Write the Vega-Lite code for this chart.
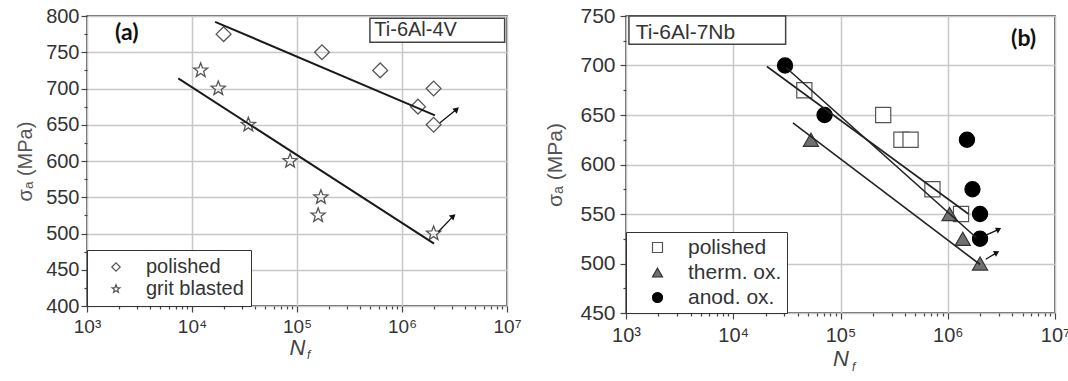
{
  "$schema": "https://vega.github.io/schema/vega-lite/v6.json",
  "background": "white",
  "padding": {"left": 14, "top": 4, "right": 0, "bottom": 0},
  "spacing": 22,
  "config": {
    "font": "Liberation Sans",
    "view": {"stroke": "#333", "strokeWidth": 1.5},
    "axis": {"domain": false, "tickColor": "#444", "tickWidth": 1.2, "tickSize": 5, "labelColor": "#333", "labelFont": "Liberation Sans", "titleFont": "Liberation Sans", "titleFontWeight": "normal", "gridColor": "#c8c8c8", "gridWidth": 1.5, "labelFlush": false, "labelOverlap": false}
  },
  "resolve": {"scale": {"shape": "independent", "fill": "independent", "stroke": "independent"}},
  "hconcat": [
    {
      "width": 420,
      "height": 290,
      "encoding": {
        "x": {"field": "N", "type": "quantitative",
          "scale": {"type": "log", "domain": [1000, 10000000], "nice": false},
          "axis": {
            "values": [1000,2000,3000,4000,5000,6000,7000,8000,9000,10000,20000,30000,40000,50000,60000,70000,80000,90000,100000,200000,300000,400000,500000,600000,700000,800000,900000,1000000,2000000,3000000,4000000,5000000,6000000,7000000,8000000,9000000,10000000],
            "labelExpr": "datum.value == 1000 ? '10³' : datum.value == 10000 ? '10⁴' : datum.value == 100000 ? '10⁵' : datum.value == 1000000 ? '10⁶' : datum.value == 10000000 ? '10⁷' : ''",
            "gridColor": {"condition": {"test": "indexof([1000,10000,100000,1000000,10000000], datum.value) >= 0", "value": "#c8c8c8"}, "value": "transparent"},
            "tickSize": {"condition": {"test": "indexof([1000,10000,100000,1000000,10000000], datum.value) >= 0", "value": 6}, "value": 3},
            "labelFontSize": 19,
            "labelPadding": 5,
            "title": "N",
            "titleFontStyle": "italic",
            "titleFontSize": 22,
            "titleColor": "#444",
            "titlePadding": 1
          }
        },
        "y": {"field": "S", "type": "quantitative",
          "scale": {"domain": [400, 800], "nice": false, "zero": false},
          "axis": {
            "values": [400,425,450,475,500,525,550,575,600,625,650,675,700,725,750,775,800],
            "labelExpr": "datum.value % 50 == 0 ? datum.label : ''",
            "gridColor": {"condition": {"test": "datum.value % 50 == 0", "value": "#c8c8c8"}, "value": "transparent"},
            "tickSize": {"condition": {"test": "datum.value % 50 == 0", "value": 6}, "value": 3},
            "labelFontSize": 20,
            "labelPadding": 2,
            "title": "σₐ (MPa)",
            "titleFontSize": 20,
            "titleColor": "#555",
            "titlePadding": 10
          }
        }
      },
      "layer": [
        {
          "data": {"values": [
            {"N": 20000, "S": 775, "series": "polished"},
            {"N": 173000, "S": 750, "series": "polished"},
            {"N": 620000, "S": 725, "series": "polished"},
            {"N": 2000000, "S": 700, "series": "polished"},
            {"N": 1420000, "S": 675, "series": "polished"},
            {"N": 2000000, "S": 650, "series": "polished"},
            {"N": 12100, "S": 725, "series": "grit blasted"},
            {"N": 17800, "S": 700, "series": "grit blasted"},
            {"N": 34400, "S": 650, "series": "grit blasted"},
            {"N": 86000, "S": 600, "series": "grit blasted"},
            {"N": 169000, "S": 550, "series": "grit blasted"},
            {"N": 159000, "S": 525, "series": "grit blasted"},
            {"N": 2000000, "S": 500, "series": "grit blasted"}
          ]},
          "mark": {"type": "point", "filled": false, "opacity": 1, "strokeWidth": 1.3, "size": 220, "color": "#555"},
          "encoding": {
            "shape": {"field": "series", "type": "nominal",
              "scale": {"domain": ["polished", "grit blasted"], "range": ["diamond", "M0,-1 L0.247,-0.34 L0.951,-0.309 L0.399,0.13 L0.588,0.809 L0,0.42 L-0.588,0.809 L-0.399,0.13 L-0.951,-0.309 L-0.247,-0.34 Z"]},
              "legend": {"title": null, "orient": "bottom-left", "offset": 0, "strokeColor": "#333", "fillColor": "white", "padding": 7, "labelFontSize": 20, "labelColor": "#333", "symbolSize": 70, "symbolStrokeColor": "#555", "symbolStrokeWidth": 1.2, "symbolOffset": 12, "labelOffset": 20, "rowPadding": 2, "cornerRadius": 0}
            }
          }
        },
        {
          "data": {"values": [
            {"N": 16600, "S": 792, "fit": "polished"},
            {"N": 2060000, "S": 663, "fit": "polished"},
            {"N": 7400, "S": 714, "fit": "grit blasted"},
            {"N": 2020000, "S": 486, "fit": "grit blasted"}
          ]},
          "mark": {"type": "line", "color": "#1a1a1a", "strokeWidth": 2},
          "encoding": {
            "detail": {"field": "fit", "type": "nominal"}
          }
        },
        {
          "data": {"values": [
            {"N": 2300000, "S": 652.8, "N2": 3320000, "S2": 671.3},
            {"N": 2220000, "S": 502.5, "N2": 3080000, "S2": 524}
          ]},
          "mark": {"type": "rule", "color": "#111", "strokeWidth": 1.3},
          "encoding": {
            "x2": {"field": "N2"},
            "y2": {"field": "S2"}
          }
        },
        {
          "data": {"values": [
            {"N": 3320000, "S": 671.3},
            {"N": 3080000, "S": 524}
          ]},
          "mark": {"type": "point", "shape": "triangle-right", "filled": true, "color": "#111", "opacity": 1, "size": 45, "angle": 318},
          "encoding": {}
        },
        {
          "data": {"values": [{"N": 495000, "N2": 9500000, "S": 763.7, "S2": 796.8}]},
          "mark": {"type": "rect", "fill": "white", "stroke": "#444", "strokeWidth": 1.5},
          "encoding": {
            "x2": {"field": "N2"},
            "y2": {"field": "S2"}
          }
        },
        {
          "data": {"values": [{"N": 545000, "S": 780.7, "label": "Ti-6Al-4V"}]},
          "mark": {"type": "text", "align": "left", "baseline": "middle", "fontSize": 20, "color": "#333"},
          "encoding": {
            "text": {"field": "label", "type": "nominal"}
          }
        },
        {
          "data": {"values": [{"N": 2390, "S": 776.6, "label": "(a)"}]},
          "mark": {"type": "text", "align": "center", "baseline": "middle", "fontSize": 23, "fontWeight": "bold", "font": "Lato", "color": "#111"},
          "encoding": {
            "text": {"field": "label", "type": "nominal"}
          }
        },
        {
          "data": {"values": [{"N": 129000, "S": 332.5, "label": "f"}]},
          "mark": {"type": "text", "align": "center", "baseline": "middle", "fontSize": 12, "fontStyle": "italic", "color": "#444"},
          "encoding": {
            "text": {"field": "label", "type": "nominal"}
          }
        }
      ]
    },
    {
      "width": 429,
      "height": 297,
      "encoding": {
        "x": {"field": "N", "type": "quantitative",
          "scale": {"type": "log", "domain": [1000, 10000000], "nice": false},
          "axis": {
            "values": [1000,2000,3000,4000,5000,6000,7000,8000,9000,10000,20000,30000,40000,50000,60000,70000,80000,90000,100000,200000,300000,400000,500000,600000,700000,800000,900000,1000000,2000000,3000000,4000000,5000000,6000000,7000000,8000000,9000000,10000000],
            "labelExpr": "datum.value == 1000 ? '10³' : datum.value == 10000 ? '10⁴' : datum.value == 100000 ? '10⁵' : datum.value == 1000000 ? '10⁶' : datum.value == 10000000 ? '10⁷' : ''",
            "gridColor": {"condition": {"test": "indexof([1000,10000,100000,1000000,10000000], datum.value) >= 0", "value": "#c8c8c8"}, "value": "transparent"},
            "tickSize": {"condition": {"test": "indexof([1000,10000,100000,1000000,10000000], datum.value) >= 0", "value": 6}, "value": 3},
            "labelFontSize": 20,
            "labelPadding": 6,
            "title": "N",
            "titleFontStyle": "italic",
            "titleFontSize": 22,
            "titleColor": "#444",
            "titlePadding": 3
          }
        },
        "y": {"field": "S", "type": "quantitative",
          "scale": {"domain": [450, 750], "nice": false, "zero": false},
          "axis": {
            "values": [450,475,500,525,550,575,600,625,650,675,700,725,750],
            "labelExpr": "datum.value % 50 == 0 ? datum.label : ''",
            "gridColor": {"condition": {"test": "datum.value % 50 == 0", "value": "#c8c8c8"}, "value": "transparent"},
            "tickSize": {"condition": {"test": "datum.value % 50 == 0", "value": 6}, "value": 3},
            "labelFontSize": 21,
            "labelPadding": 5,
            "title": "σₐ (MPa)",
            "titleFontSize": 21,
            "titleColor": "#555",
            "titlePadding": 14
          }
        }
      },
      "layer": [
        {
          "data": {"values": [
            {"N": 46000, "S": 675, "series": "polished"},
            {"N": 250000, "S": 650, "series": "polished"},
            {"N": 370000, "S": 625, "series": "polished"},
            {"N": 450000, "S": 625, "series": "polished"},
            {"N": 720000, "S": 575, "series": "polished"},
            {"N": 1330000, "S": 550, "series": "polished"},
            {"N": 53000, "S": 625, "series": "therm. ox."},
            {"N": 1040000, "S": 550, "series": "therm. ox."},
            {"N": 1380000, "S": 525, "series": "therm. ox."},
            {"N": 2000000, "S": 500, "series": "therm. ox."},
            {"N": 30400, "S": 700, "series": "anod. ox."},
            {"N": 71000, "S": 650, "series": "anod. ox."},
            {"N": 1510000, "S": 625, "series": "anod. ox."},
            {"N": 1700000, "S": 575, "series": "anod. ox."},
            {"N": 2000000, "S": 550, "series": "anod. ox."},
            {"N": 2000000, "S": 525, "series": "anod. ox."}
          ]},
          "mark": {"type": "point", "filled": true, "opacity": 1, "strokeWidth": 1.2, "size": 230},
          "encoding": {
            "shape": {"field": "series", "type": "nominal",
              "scale": {"domain": ["polished", "therm. ox.", "anod. ox."], "range": ["square", "triangle-up", "circle"]},
              "legend": {"title": null, "orient": "bottom-left", "offset": 0, "strokeColor": "#333", "fillColor": "white", "padding": 5, "labelFontSize": 21, "labelColor": "#333", "symbolSize": 100, "symbolStrokeWidth": 1.2, "symbolOffset": 16, "labelOffset": 20, "rowPadding": 3, "cornerRadius": 0}
            },
            "fill": {"field": "series", "type": "nominal",
              "scale": {"domain": ["polished", "therm. ox.", "anod. ox."], "range": ["#ffffff", "#707070", "#000000"]},
              "legend": {"title": null, "orient": "bottom-left", "offset": 0, "strokeColor": "#333", "fillColor": "white", "padding": 5, "labelFontSize": 21, "labelColor": "#333", "symbolSize": 100, "symbolStrokeWidth": 1.2, "symbolOffset": 16, "labelOffset": 20, "rowPadding": 3, "cornerRadius": 0}
            },
            "stroke": {"field": "series", "type": "nominal",
              "scale": {"domain": ["polished", "therm. ox.", "anod. ox."], "range": ["#555555", "#333333", "#000000"]},
              "legend": {"title": null, "orient": "bottom-left", "offset": 0, "strokeColor": "#333", "fillColor": "white", "padding": 5, "labelFontSize": 21, "labelColor": "#333", "symbolSize": 100, "symbolStrokeWidth": 1.2, "symbolOffset": 16, "labelOffset": 20, "rowPadding": 3, "cornerRadius": 0}
            }
          }
        },
        {
          "data": {"values": [
            {"N": 20600, "S": 699, "fit": "polished"},
            {"N": 1560000, "S": 550, "fit": "polished"},
            {"N": 31000, "S": 698, "fit": "anod. ox."},
            {"N": 1850000, "S": 526, "fit": "anod. ox."},
            {"N": 36000, "S": 642, "fit": "therm. ox."},
            {"N": 2000000, "S": 499, "fit": "therm. ox."}
          ]},
          "mark": {"type": "line", "color": "#222", "strokeWidth": 1.6},
          "encoding": {
            "detail": {"field": "fit", "type": "nominal"}
          }
        },
        {
          "data": {"values": [
            {"N": 2170000, "S": 527.7, "N2": 2990000, "S2": 534.5},
            {"N": 2260000, "S": 504.3, "N2": 2870000, "S2": 511}
          ]},
          "mark": {"type": "rule", "color": "#111", "strokeWidth": 1.3},
          "encoding": {
            "x2": {"field": "N2"},
            "y2": {"field": "S2"}
          }
        },
        {
          "data": {"values": [
            {"N": 2990000, "S": 534.5},
            {"N": 2870000, "S": 511}
          ]},
          "mark": {"type": "point", "shape": "triangle-right", "filled": true, "color": "#111", "opacity": 1, "size": 40, "angle": 332},
          "encoding": {}
        },
        {
          "data": {"values": [{"N": 1065, "N2": 30800, "S": 721.5, "S2": 750}]},
          "mark": {"type": "rect", "fill": "white", "stroke": "#444", "strokeWidth": 1.5},
          "encoding": {
            "x2": {"field": "N2"},
            "y2": {"field": "S2"}
          }
        },
        {
          "data": {"values": [{"N": 1230, "S": 732.6, "label": "Ti-6Al-7Nb"}]},
          "mark": {"type": "text", "align": "left", "baseline": "middle", "fontSize": 21, "color": "#333"},
          "encoding": {
            "text": {"field": "label", "type": "nominal"}
          }
        },
        {
          "data": {"values": [{"N": 5100000, "S": 726.8, "label": "(b)"}]},
          "mark": {"type": "text", "align": "center", "baseline": "middle", "fontSize": 23, "fontWeight": "bold", "font": "Lato", "color": "#111"},
          "encoding": {
            "text": {"field": "label", "type": "nominal"}
          }
        },
        {
          "data": {"values": [{"N": 133000, "S": 395.5, "label": "f"}]},
          "mark": {"type": "text", "align": "center", "baseline": "middle", "fontSize": 12, "fontStyle": "italic", "color": "#444"},
          "encoding": {
            "text": {"field": "label", "type": "nominal"}
          }
        }
      ]
    }
  ]
}
